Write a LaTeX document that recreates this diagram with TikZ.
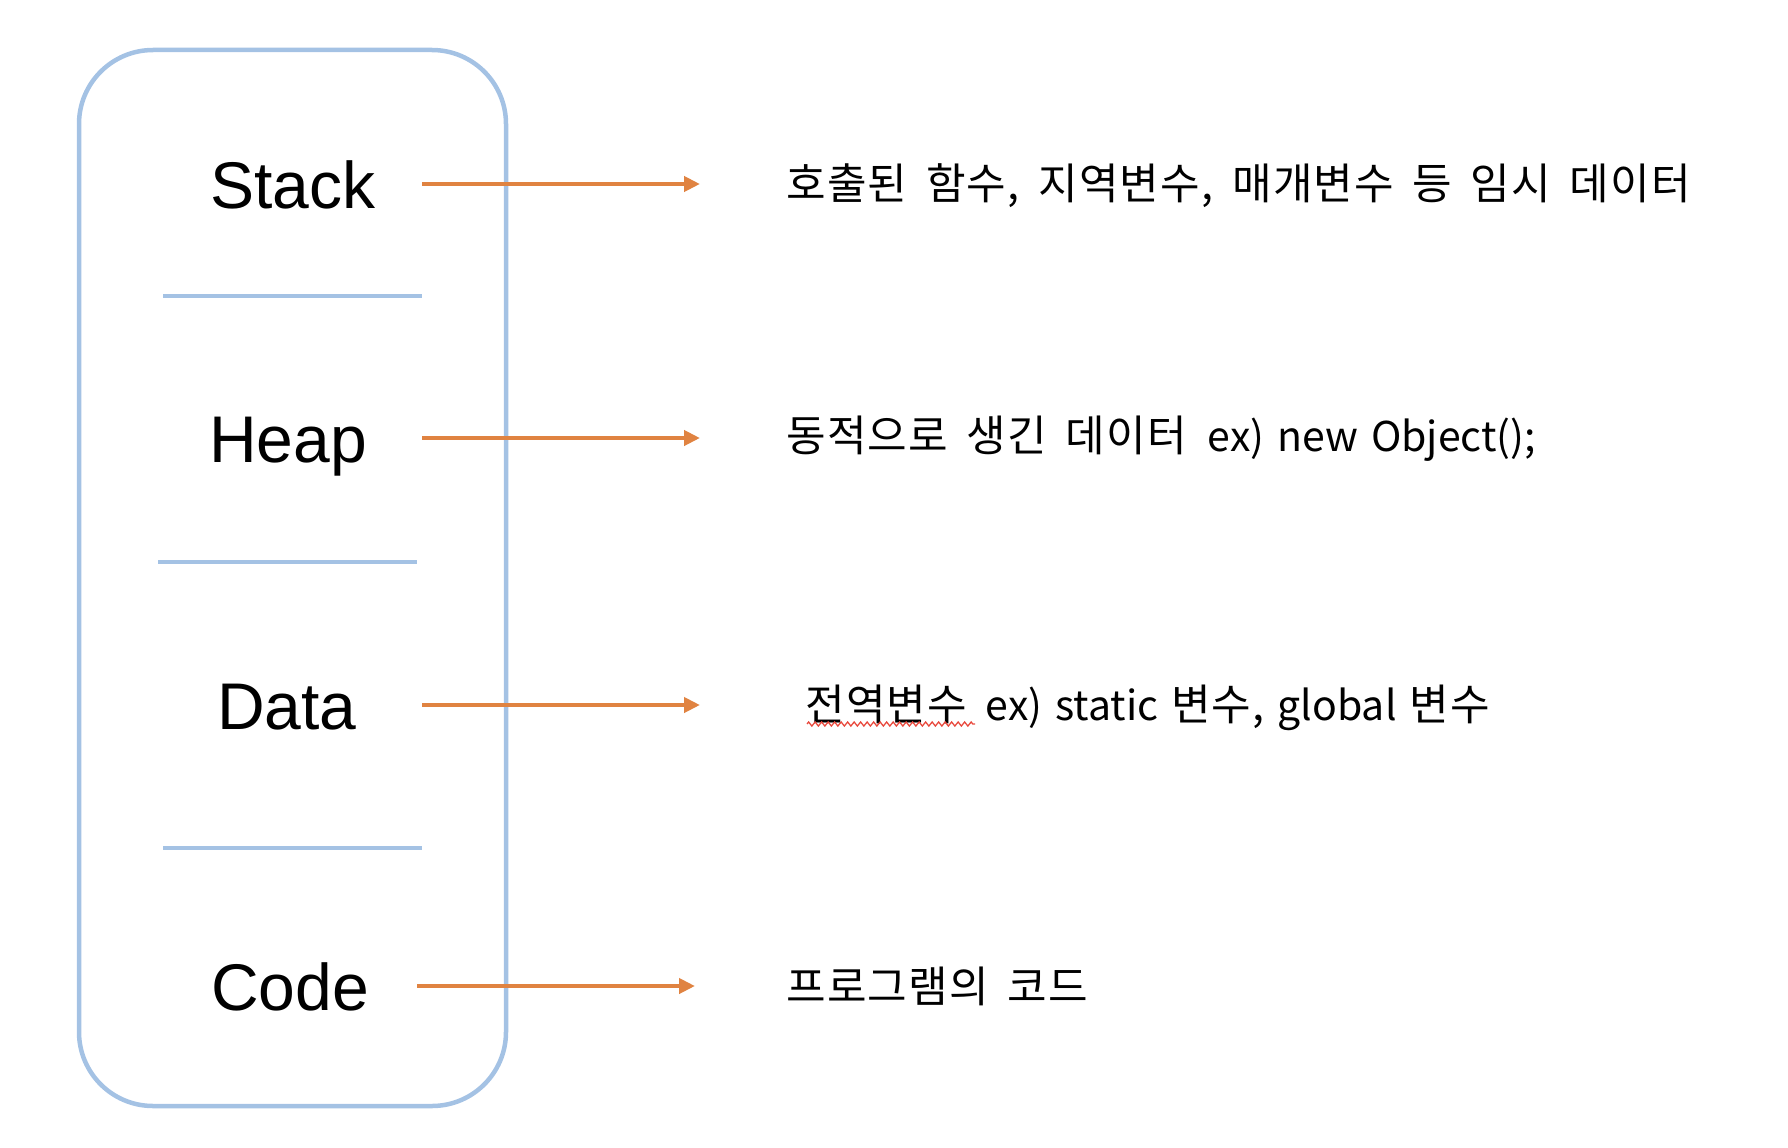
\documentclass[tikz,border=0pt]{standalone}
\usepackage{fontspec}
\setmainfont{Liberation Sans}
\newfontfamily\krh[LetterSpace=3,WordSpace=1.7]{Noto Sans CJK KR}
\newfontfamily\krl[WordSpace=1.4]{Noto Sans CJK KR}
\newcommand{\hg}[1]{{\krh\fontsize{43}{50}\selectfont #1}}
\newcommand{\lt}[1]{{\krl\fontsize{41}{50}\selectfont #1}}
\usetikzlibrary{arrows.meta,decorations.pathmorphing}
\definecolor{boxblue}{RGB}{164,194,228}
\definecolor{arrorange}{RGB}{224,131,65}
\definecolor{squig}{RGB}{232,72,60}
\tikzset{
  seglabel/.style={inner sep=0pt,anchor=base west,font=\fontsize{66}{70}\selectfont},
  desc/.style={inner sep=0pt,anchor=base west},
  sep/.style={draw=boxblue,line width=4.5pt},
  arr/.style={draw=arrorange,line width=4.5pt,-{Triangle[length=16pt,width=15pt]}},
}
\begin{document}
\begin{tikzpicture}[x=1pt,y=-1pt]
\useasboundingbox (0,0) rectangle (1788,1148);
% outer box
\draw[boxblue,line width=4.5pt,rounded corners=74pt] (79,50) rectangle (506,1106);
% separators
\draw[sep] (163,296) -- (422,296);
\draw[sep] (158,562) -- (417,562);
\draw[sep] (163,848) -- (422,848);
% labels
\node[seglabel] (stack) at (210,208) {Stack};
\node[seglabel] (heap) at (209,462) {Heap};
\node[seglabel] (data) at (217,729) {Data};
\node[seglabel] (code) at (211,1010) {Code};
% descriptions
\node[desc] (d1) at (786,199) {\hg{호출된 함수, 지역변수, 매개변수 등 임시 데이터}};
\node[desc] (d2) at (786,451) {\hg{동적으로 생긴 데이터}\hspace*{8pt}\lt{ ex) new Object();}};
\node[desc] (d3) at (805,720) {\hg{전역변수 }\lt{ex) static }\hg{변수,}\lt{ global }\hg{변수}};
\node[desc] (d4) at (786,1002) {\hg{프로그램의 코드}};
% arrow endpoints
\coordinate (s1) at (422,184); \coordinate (e1) at (700,184);
\coordinate (s2) at (422,438); \coordinate (e2) at (700,438);
\coordinate (s3) at (422,705); \coordinate (e3) at (700,705);
\coordinate (s4) at (417,986); \coordinate (e4) at (695,986);
\draw[arr] (s1) -- (e1);
\draw[arr] (s2) -- (e2);
\draw[arr] (s3) -- (e3);
\draw[arr] (s4) -- (e4);
% spell-check squiggle
\coordinate (q1) at (807,724); \coordinate (q2) at (975,724);
\draw[squig,line width=1.3pt,decorate,decoration={zigzag,segment length=6.5pt,amplitude=2pt}] (q1) -- (q2);
\end{tikzpicture}
\end{document}
